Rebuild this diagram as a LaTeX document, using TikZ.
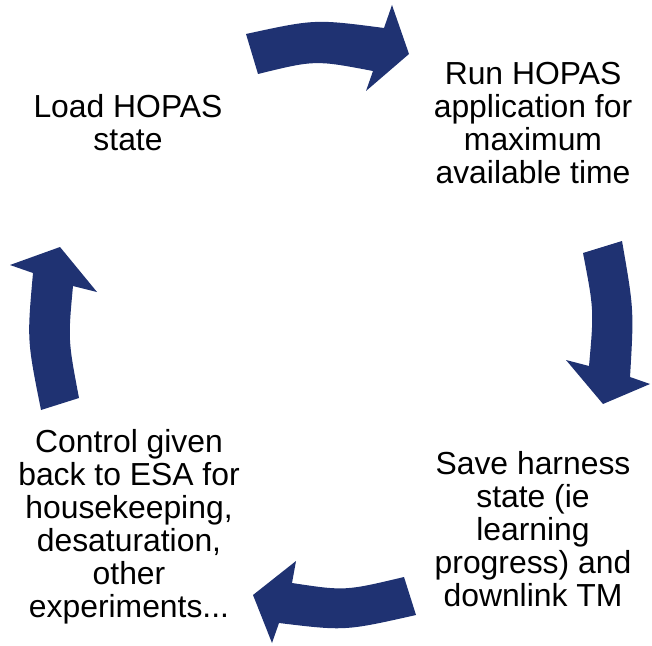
\documentclass[tikz,border=0pt]{standalone}
\usepackage{fontspec}
\setmainfont{Liberation Sans}
\definecolor{cyclenavy}{RGB}{31,50,114}
\begin{document}
\begin{tikzpicture}[x=0.75pt,y=-0.75pt,
  stage/.style={align=center,font=\fontsize{23.9}{24.8}\selectfont,inner sep=0pt},
  bentarrow/.style={fill=cyclenavy,draw=none}]
\useasboundingbox (0,0) rectangle (652,645);

% four stages of the cycle
\node[stage] (load) at (128,123) {Load HOPAS\\state};
\node[stage] (run)  at (533,123) {Run HOPAS\\application for\\maximum\\available time};
\node[stage] (save) at (533,529) {Save harness\\state (ie\\learning\\progress) and\\downlink TM};
\node[stage] (ctrl) at (129,527) {Control given\\back to ESA for\\housekeeping,\\desaturation,\\other\\experiments...};

% top: load -> run
\fill[bentarrow] (246,34) .. controls (315,19) .. (384,28) -- (392,5) -- (409,54)
  -- (366,91) -- (373,71) .. controls (315,60) .. (258,74) -- cycle;
% right: run -> save
\fill[bentarrow] (583,253) .. controls (594,310) .. (589,366) -- (566,360) -- (603,404)
  -- (650,384) -- (630,377) .. controls (634,310) .. (622,241) -- cycle;
% bottom: save -> control
\fill[bentarrow] (404,577) .. controls (345,591) .. (292,583) -- (296,561) -- (253,595)
  -- (272,643) -- (279,623) .. controls (345,631) .. (416,615) -- cycle;
% left: control -> load
\fill[bentarrow] (79,398) .. controls (68,340) .. (73,286) -- (97,292) -- (60,247)
  -- (10,265) -- (33,273) .. controls (27,340) .. (41,410) -- cycle;
\end{tikzpicture}
\end{document}
